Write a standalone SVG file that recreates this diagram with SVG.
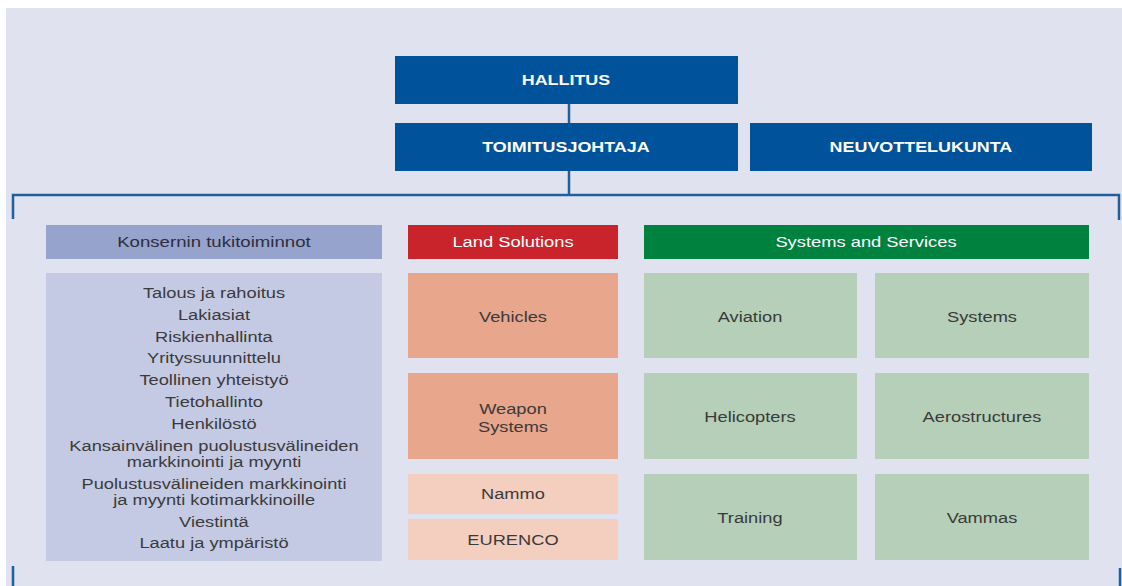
<svg xmlns="http://www.w3.org/2000/svg" width="1122" height="586" viewBox="0 0 1122 586">
  <style>
    text { font-family: "Liberation Sans", Arial, sans-serif; text-anchor: middle;
           transform-box: fill-box; transform-origin: center; }
    .top { fill: #00529b; }
    .top-t { fill: #ffffff; font-size: 14px; font-weight: bold; transform: scaleX(1.28); }
    .hdr-t { fill: #ffffff; font-size: 14px; transform: scaleX(1.31); }
    .hdr-k { fill: #2e2e3a; font-size: 14px; transform: scaleX(1.33); }
    .body-t { fill: #3a3a3a; font-size: 14.5px; transform: scaleX(1.26); }
    .link { stroke: #1f5f9c; stroke-width: 2.5; fill: none; }
  </style>
  <rect x="0" y="0" width="1122" height="586" fill="#ffffff"/>
  <rect x="6" y="8" width="1116" height="578" fill="#e0e3ef"/>

  <g id="connectors">
    <line class="link" x1="569" y1="104" x2="569" y2="123"/>
    <line class="link" x1="569" y1="171" x2="569" y2="195"/>
    <path class="link" d="M13 219 V195 H1119 V220"/>
    <line class="link" x1="13" y1="566" x2="13" y2="586"/>
    <line class="link" x1="1120" y1="568" x2="1120" y2="586"/>
  </g>

  <g id="hallitus">
    <rect class="top" x="395" y="56" width="343" height="48"/>
    <text class="top-t" x="566" y="85">HALLITUS</text>
  </g>
  <g id="toimitusjohtaja">
    <rect class="top" x="395" y="123" width="343" height="48"/>
    <text class="top-t" x="566" y="152">TOIMITUSJOHTAJA</text>
  </g>
  <g id="neuvottelukunta">
    <rect class="top" x="750" y="123" width="342" height="48"/>
    <text class="top-t" x="921" y="152">NEUVOTTELUKUNTA</text>
  </g>

  <g id="konsernin-tukitoiminnot">
    <rect x="46" y="225" width="336" height="34" fill="#96a3cc"/>
    <text class="hdr-k" x="214" y="247">Konsernin tukitoiminnot</text>
    <rect x="46" y="273" width="336" height="288" fill="#c5cae4"/>
    <text class="body-t" x="214" y="298">Talous ja rahoitus</text>
    <text class="body-t" x="214" y="320">Lakiasiat</text>
    <text class="body-t" x="214" y="342">Riskienhallinta</text>
    <text class="body-t" x="214" y="363">Yrityssuunnittelu</text>
    <text class="body-t" x="214" y="385">Teollinen yhteistyö</text>
    <text class="body-t" x="214" y="407">Tietohallinto</text>
    <text class="body-t" x="214" y="429">Henkilöstö</text>
    <text class="body-t" x="214" y="451">Kansainvälinen puolustusvälineiden</text>
    <text class="body-t" x="214" y="467">markkinointi ja myynti</text>
    <text class="body-t" x="214" y="489">Puolustusvälineiden markkinointi</text>
    <text class="body-t" x="214" y="505">ja myynti kotimarkkinoille</text>
    <text class="body-t" x="214" y="527">Viestintä</text>
    <text class="body-t" x="214" y="548">Laatu ja ympäristö</text>
  </g>

  <g id="land-solutions">
    <rect x="408" y="225" width="210" height="34" fill="#c9242c"/>
    <text class="hdr-t" x="513" y="247">Land Solutions</text>
  </g>
  <g id="vehicles">
    <rect x="408" y="273" width="210" height="85" fill="#e8a68c"/>
    <text class="body-t" x="513" y="322">Vehicles</text>
  </g>
  <g id="weapon-systems">
    <rect x="408" y="373" width="210" height="86" fill="#e8a68c"/>
    <text class="body-t" x="513" y="414">Weapon</text>
    <text class="body-t" x="513" y="432">Systems</text>
  </g>
  <g id="nammo">
    <rect x="408" y="474" width="210" height="40" fill="#f4cfc0"/>
    <text class="body-t" x="513" y="499">Nammo</text>
  </g>
  <g id="eurenco">
    <rect x="408" y="519" width="210" height="41" fill="#f4cfc0"/>
    <text class="body-t" x="513" y="545">EURENCO</text>
  </g>

  <g id="systems-and-services">
    <rect x="644" y="225" width="445" height="34" fill="#00823f"/>
    <text class="hdr-t" x="866" y="247">Systems and Services</text>
  </g>
  <g id="aviation">
    <rect x="644" y="273" width="213" height="85" fill="#b5cfb8"/>
    <text class="body-t" x="750" y="322">Aviation</text>
  </g>
  <g id="systems">
    <rect x="875" y="273" width="214" height="85" fill="#b5cfb8"/>
    <text class="body-t" x="982" y="322">Systems</text>
  </g>
  <g id="helicopters">
    <rect x="644" y="373" width="213" height="86" fill="#b5cfb8"/>
    <text class="body-t" x="750" y="422">Helicopters</text>
  </g>
  <g id="aerostructures">
    <rect x="875" y="373" width="214" height="86" fill="#b5cfb8"/>
    <text class="body-t" x="982" y="422">Aerostructures</text>
  </g>
  <g id="training">
    <rect x="644" y="474" width="213" height="86" fill="#b5cfb8"/>
    <text class="body-t" x="750" y="523">Training</text>
  </g>
  <g id="vammas">
    <rect x="875" y="474" width="214" height="86" fill="#b5cfb8"/>
    <text class="body-t" x="982" y="523">Vammas</text>
  </g>
</svg>
